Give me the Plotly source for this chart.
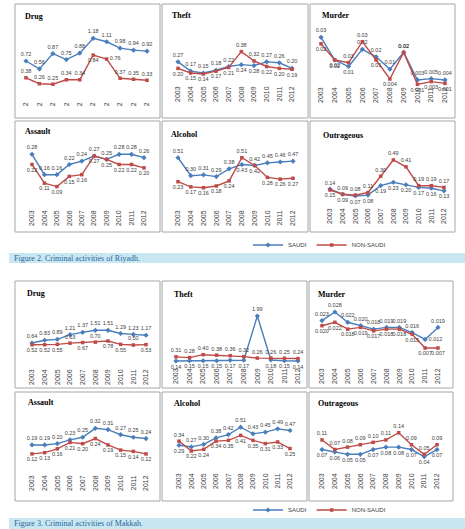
import plotly.graph_objects as go

W, H = 465, 529
years = ["2003", "2004", "2005", "2006", "2007", "2008", "2009", "2010", "2011", "2012"]

# ---------------- Riyadh (Figure 2) ----------------
riy_drug_saudi = [0.72, 0.56, 0.87, 0.75, 0.88, 1.18, 1.11, 0.98, 0.94, 0.92]
riy_drug_non = [0.38, 0.26, 0.25, 0.34, 0.34, 0.84, 0.76, 0.37, 0.35, 0.33]
riy_theft_saudi = [0.27, 0.17, 0.15, 0.18, 0.22, 0.24, 0.23, 0.27, 0.26, 0.20]
riy_theft_non = [0.20, 0.15, 0.14, 0.17, 0.21, 0.38, 0.28, 0.22, 0.20, 0.19]
riy_theft_saudi_lbl = ["0.27", "0.17", "0.15", "0.18", "0.22", "0.24", "0.28", "0.27", "0.26", "0.20"]
riy_theft_non_lbl = ["0.20", "0.15", "0.14", "0.17", "0.21", "0.38", "0.32", "0.22", "0.20", "0.19"]
riy_murder_saudi = [0.030, 0.016, 0.012, 0.0226, 0.018, 0.0103, 0.0207, 0.0037, 0.0045, 0.0037]
riy_murder_non = [0.026, 0.016, 0.0144, 0.0273, 0.016, 0.0043, 0.0207, 0.001, 0.0027, 0.0016]
riy_murder_saudi_lbl = ["0.03", "0.02", "0.01", "0.02", "0.02", "0.01", "0.02", "0.003", "0.005", "0.004"]
riy_murder_non_lbl = ["0.02", "0.02", "0.01", "0.03", "0.01", "0.004", "0.02", "0.001", "0.003", "0.001"]
riy_assault_saudi = [0.28, 0.16, 0.16, 0.22, 0.24, 0.27, 0.25, 0.28, 0.28, 0.26]
riy_assault_non = [0.22, 0.11, 0.09, 0.15, 0.16, 0.27, 0.25, 0.22, 0.22, 0.20]
riy_alcohol_saudi = [0.51, 0.30, 0.31, 0.29, 0.38, 0.43, 0.42, 0.45, 0.46, 0.47]
riy_alcohol_non = [0.23, 0.17, 0.16, 0.18, 0.24, 0.51, 0.42, 0.28, 0.26, 0.27]
riy_outr_saudi = [0.15, 0.09, 0.07, 0.08, 0.19, 0.23, 0.20, 0.17, 0.16, 0.13]
riy_outr_non = [0.14, 0.09, 0.08, 0.11, 0.30, 0.49, 0.41, 0.19, 0.19, 0.17]

# ---------------- Makkah (Figure 3) ----------------
mak_drug_saudi = [0.64, 0.83, 0.89, 1.21, 1.37, 1.51, 1.51, 1.29, 1.23, 1.17]
mak_drug_non = [0.52, 0.52, 0.55, 0.63, 0.67, 0.70, 0.78, 0.55, 0.50, 0.53]
mak_theft_saudi = [0.14, 0.15, 0.15, 0.15, 0.17, 0.17, 1.99, 0.18, 0.15, 0.14]
mak_theft_non = [0.31, 0.28, 0.40, 0.38, 0.36, 0.32, 0.26, 0.26, 0.25, 0.24]
mak_murder_saudi = [0.023, 0.028, 0.022, 0.020, 0.018, 0.019, 0.019, 0.016, 0.012, 0.019]
mak_murder_non = [0.020, 0.022, 0.018, 0.019, 0.017, 0.018, 0.018, 0.015, 0.007, 0.007]
mak_assault_saudi = [0.19, 0.19, 0.20, 0.23, 0.25, 0.32, 0.31, 0.27, 0.25, 0.24]
mak_assault_non = [0.12, 0.13, 0.16, 0.21, 0.20, 0.24, 0.19, 0.15, 0.14, 0.12]
mak_alcohol_saudi = [0.29, 0.27, 0.30, 0.38, 0.42, 0.51, 0.43, 0.45, 0.49, 0.47]
mak_alcohol_non = [0.34, 0.22, 0.24, 0.34, 0.35, 0.41, 0.35, 0.31, 0.33, 0.25]
mak_outr_saudi = [0.07, 0.06, 0.05, 0.05, 0.07, 0.08, 0.08, 0.07, 0.04, 0.07]
mak_outr_non = [0.11, 0.07, 0.08, 0.09, 0.10, 0.11, 0.14, 0.09, 0.05, 0.09]

BLUE = "#4A7EBB"
RED = "#BE4B48"
TXT = "#404040"


def fmt(vals, f="{:.2f}"):
    return [f.format(v) for v in vals]


T, B = "top center", "bottom center"

panels = [
    dict(title="Drug", s=riy_drug_saudi, n=riy_drug_non, sl=fmt(riy_drug_saudi), nl=fmt(riy_drug_non),
         sp=[T] * 10, np_=[T, T, T, T, T, B, "middle right", T, T, T],
         box=(15, 4, 160, 118), xc=(26, 147), py=(100, 24), yr=(-0.07, 1.47), tick="2", tpos=(23, 17)),
    dict(title="Theft", s=riy_theft_saudi, n=riy_theft_non, sl=riy_theft_saudi_lbl, nl=riy_theft_non_lbl,
         sp=[T, T, T, T, T, B, B, T, T, T], np_=[B, B, B, B, B, T, T, B, B, B],
         box=(162, 4, 308, 118), xc=(178, 292), py=(84, 24), yr=(0.032, 0.677), tpos=(170, 15)),
    dict(title="Murder", s=riy_murder_saudi, n=riy_murder_non, sl=riy_murder_saudi_lbl, nl=riy_murder_non_lbl,
         sp=[T, B, B, T, T, T, T, T, T, T], np_=[B, B, T, T, B, B, T, B, B, B],
         box=(310, 4, 455, 118), xc=(321, 445), py=(85, 24), yr=(0.0006, 0.0382), tpos=(320, 16)),
    dict(title="Assault", s=riy_assault_saudi, n=riy_assault_non, sl=fmt(riy_assault_saudi), nl=fmt(riy_assault_non),
         sp=[T] * 10, np_=[B] * 10,
         box=(15, 121, 160, 232), xc=(32, 144), py=(208, 140), yr=(-0.036, 0.364), tpos=(23, 132)),
    dict(title="Alcohol", s=riy_alcohol_saudi, n=riy_alcohol_non, sl=fmt(riy_alcohol_saudi), nl=fmt(riy_alcohol_non),
         sp=[T, T, T, T, T, B, B, T, T, T], np_=[B, B, B, B, B, T, T, B, B, B],
         box=(162, 121, 308, 232), xc=(178, 293), py=(208, 140), yr=(-0.077, 0.717), tpos=(169, 134)),
    dict(title="Outrageous", s=riy_outr_saudi, n=riy_outr_non, sl=fmt(riy_outr_saudi), nl=fmt(riy_outr_non),
         sp=[B] * 10, np_=[T] * 10,
         box=(310, 121, 455, 232), xc=(330, 444), py=(206, 140), yr=(-0.047, 0.723), tpos=(321, 135)),
    dict(title="Drug", s=mak_drug_saudi, n=mak_drug_non, sl=fmt(mak_drug_saudi), nl=fmt(mak_drug_non),
         sp=[T] * 10, np_=[B, B, B, T, B, T, B, B, T, B],
         box=(15, 281, 160, 388), xc=(32, 146), py=(367, 300), yr=(-1.0, 3.58), tpos=(25, 293)),
    dict(title="Theft", s=mak_theft_saudi, n=mak_theft_non, sl=fmt(mak_theft_saudi), nl=fmt(mak_theft_non),
         sp=[B] * 6 + [T] + [B] * 3, np_=[T] * 10,
         box=(162, 281, 307, 388), xc=(176, 298), py=(366, 300), yr=(-0.066, 2.65), tpos=(172, 294)),
    dict(title="Murder", s=mak_murder_saudi, n=mak_murder_non, sl=fmt(mak_murder_saudi, "{:.3f}"),
         nl=fmt(mak_murder_non, "{:.3f}"),
         sp=[T, T, T, T, T, T, T, T, "middle right", T], np_=[B, B, B, B, B, B, B, B, B, B],
         box=(309, 281, 453, 388), xc=(322, 438), py=(366, 300), yr=(-0.0035, 0.035), tpos=(316, 294)),
    dict(title="Assault", s=mak_assault_saudi, n=mak_assault_non, sl=fmt(mak_assault_saudi), nl=fmt(mak_assault_non),
         sp=[T] * 10, np_=[B] * 10,
         box=(15, 392, 160, 501), xc=(32, 146), py=(473, 410), yr=(-0.029, 0.463), tpos=(26, 402)),
    dict(title="Alcohol", s=mak_alcohol_saudi, n=mak_alcohol_non, sl=fmt(mak_alcohol_saudi), nl=fmt(mak_alcohol_non),
         sp=[B] + [T] * 9, np_=[T] + [B] * 9,
         box=(162, 392, 307, 501), xc=(179, 290), py=(471, 410), yr=(-0.024, 0.72), tpos=(172, 403)),
    dict(title="Outrageous", s=mak_outr_saudi, n=mak_outr_non, sl=fmt(mak_outr_saudi), nl=fmt(mak_outr_non),
         sp=[B] * 10, np_=[T] * 10,
         box=(309, 392, 453, 501), xc=(322, 437), py=(471, 410), yr=(-0.0196, 0.235), tpos=(316, 403)),
]


def px(x):
    return x / W


def py_(y):
    return 1 - y / H


fig = go.Figure()
shapes, annotations = [], []
layout = {}

for i, p in enumerate(panels):
    k = i + 1
    xa, ya = ("x" if k == 1 else f"x{k}"), ("y" if k == 1 else f"y{k}")
    legend_name = "legend" if i < 6 else "legend2"
    show = i in (0, 6)
    fig.add_trace(go.Scatter(
        x=years, y=p["s"], mode="lines+markers+text", text=p["sl"], textposition=p["sp"],
        textfont=dict(size=5.5, color=TXT, family="Liberation Sans"),
        line=dict(color=BLUE, width=1.4), marker=dict(symbol="diamond", size=4, color=BLUE),
        name="SAUDI", showlegend=show, legend=legend_name, cliponaxis=False, xaxis=xa, yaxis=ya))
    fig.add_trace(go.Scatter(
        x=years, y=p["n"], mode="lines+markers+text", text=p["nl"], textposition=p["np_"],
        textfont=dict(size=5.5, color=TXT, family="Liberation Sans"),
        line=dict(color=RED, width=1.4), marker=dict(symbol="square", size=3.5, color=RED),
        name="NON-SAUDI", showlegend=show, legend=legend_name, cliponaxis=False, xaxis=xa, yaxis=ya))
    x0, x9 = p["xc"]
    d = (x9 - x0) / 9
    ticktext = [p.get("tick")] * 10 if p.get("tick") else years
    layout[f"xaxis{k}"] = dict(
        domain=[px(x0 - d / 2), px(x9 + d / 2)], anchor=ya, type="category", range=[-0.5, 9.5],
        tickmode="array", tickvals=years, ticktext=ticktext, tickangle=-90,
        tickfont=dict(size=7, color=TXT, family="Liberation Sans"), showgrid=False, showline=False,
        zeroline=False, ticks="", fixedrange=True)
    layout[f"yaxis{k}"] = dict(
        domain=[py_(p["py"][0]), py_(p["py"][1])], anchor=xa, range=list(p["yr"]),
        visible=False, showgrid=False, zeroline=False, fixedrange=True)
    bx0, by0, bx1, by1 = p["box"]
    shapes.append(dict(type="rect", xref="paper", yref="paper", x0=px(bx0), x1=px(bx1), y0=py_(by0), y1=py_(by1),
                       line=dict(color="#A6A6A6", width=1), fillcolor="rgba(0,0,0,0)", layer="below"))
    tx, ty = p["tpos"]
    annotations.append(dict(text=f"<b>{p['title']}</b>", xref="paper", yref="paper", x=px(tx), y=py_(ty),
                            xanchor="left", yanchor="middle", showarrow=False,
                            font=dict(size=8, color="#000000", family="Liberation Serif")))

captions = [("Figure 2. Criminal activities of Riyadh.", 253, 263, 258),
            ("Figure 3. Criminal activities of Makkah.", 518, 529, 523.5)]
for text, y0, y1, yc in captions:
    shapes.append(dict(type="rect", xref="paper", yref="paper", x0=px(9), x1=1, y0=py_(y0), y1=py_(y1),
                       line=dict(width=0), fillcolor="#C9E7F0", layer="below"))
    annotations.append(dict(text=text, xref="paper", yref="paper", x=px(12), y=py_(yc), xanchor="left",
                            yanchor="middle", showarrow=False,
                            font=dict(size=8, color="#2A65A0", family="Liberation Serif")))

legend_common = dict(orientation="h", xanchor="left", yanchor="middle", bgcolor="rgba(0,0,0,0)",
                     font=dict(size=6, color=TXT, family="Liberation Sans"), itemwidth=30,
                     tracegroupgap=0)

fig.update_layout(
    width=W, height=H, margin=dict(l=0, r=0, t=0, b=0),
    paper_bgcolor="white", plot_bgcolor="white",
    shapes=shapes, annotations=annotations,
    legend=dict(x=px(248), y=py_(245), **legend_common),
    legend2=dict(x=px(248), y=py_(510), **legend_common),
    **layout,
)

fig.write_html("out.html", config={"displayModeBar": False},
               post_script="document.body.style.margin='0';document.body.style.overflow='hidden';")
